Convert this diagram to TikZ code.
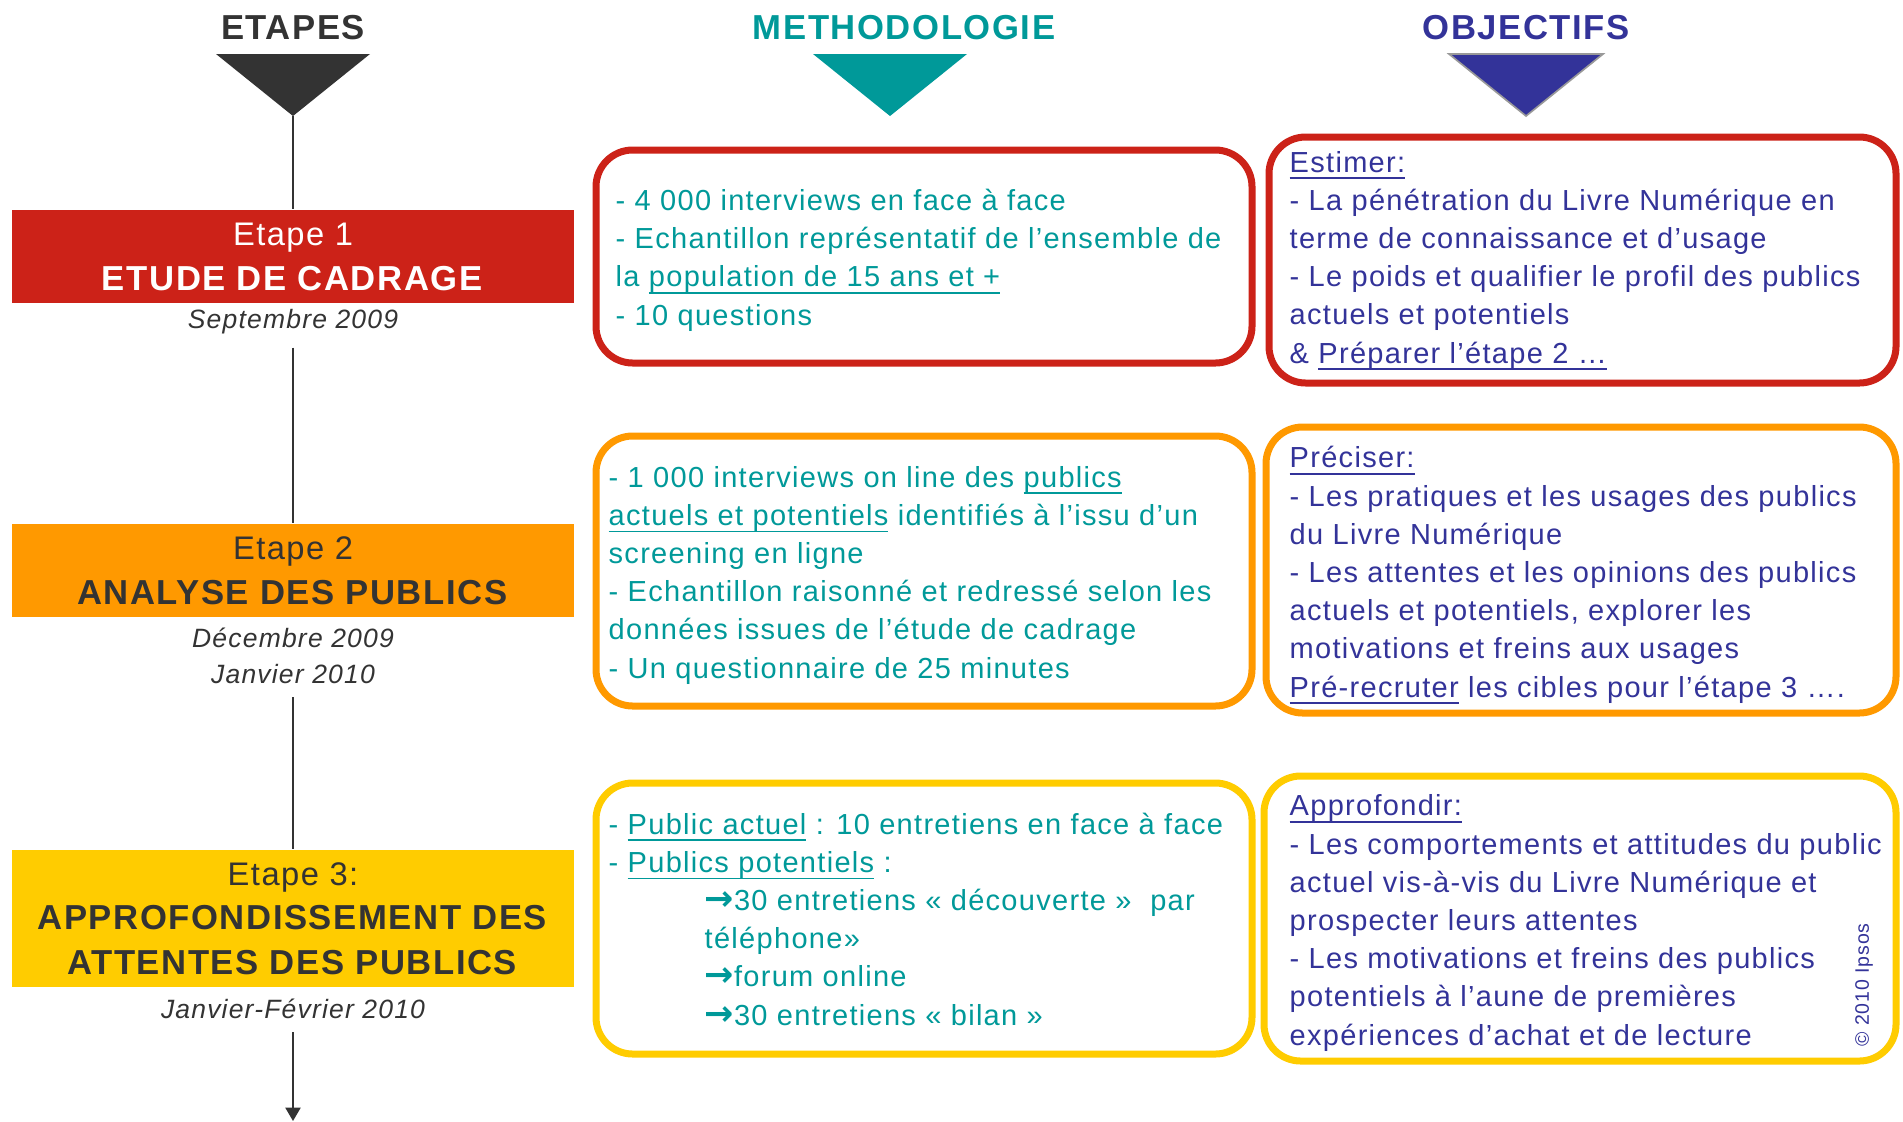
\documentclass[tikz,border=0pt]{standalone}
\usepackage{fontspec}
\setmainfont{Liberation Sans}[LetterSpace=4.5]
\newfontfamily\arrowfont{DejaVu Sans}
\usetikzlibrary{arrows.meta}
\definecolor{ipsosred}{RGB}{204,34,24}
\definecolor{ipsosorange}{RGB}{255,153,0}
\definecolor{ipsosyellow}{RGB}{255,204,0}
\definecolor{methteal}{RGB}{0,153,153}
\definecolor{objnavy}{RGB}{51,51,153}
\definecolor{stepgray}{RGB}{51,51,51}
\newsavebox{\undlbox}
\newcommand{\undl}[1]{\sbox{\undlbox}{#1}\rlap{\rule[-0.25em]{\wd\undlbox}{0.065em}}\usebox{\undlbox}}
\newcommand{\toarrow}{{\arrowfont\bfseries\fontsize{10.5}{11}\selectfont →}}

\begin{document}
\begin{tikzpicture}[x=0.3pt, y=-0.3pt,
  coltitle/.style={anchor=base, inner sep=0, font=\fontsize{10.4}{12}\selectfont\bfseries},
  stepbox/.style={minimum width=168.6pt, minimum height=27.9pt, inner sep=0, align=center, font=\fontsize{10.4}{13.5}\selectfont},
  stepdate/.style={anchor=base, inner sep=0, align=center, text=stepgray, font=\fontsize{7.95}{10.8}\selectfont\itshape},
  timeline/.style={stepgray, line width=0.6pt},
  infobox/.style={line width=2.1pt, rounded corners=11pt},
  infotext/.style={anchor=base west, inner sep=0, align=left, font=\fontsize{8.7}{11.46}\selectfont}]
\fill[white] (0,0) rectangle (1903,1121);
\useasboundingbox (0,0) rectangle (1903,1121);

% column heads
\foreach \tx/\ax/\c/\t in {293/293/stepgray/ETAPES, 904/890/methteal/METHODOLOGIE, 1526/1526/objnavy/OBJECTIFS} {
 \node[coltitle, text=\c] (head\t) at (\tx,39) {\t};
 \fill[\c] (\ax-77,54) -- (\ax+77,54) -- (\ax,116) -- cycle;
 \coordinate (apex\t) at (\ax,116);
}
\draw[black!40, line width=0.5pt] (1449,54) -- (1603,54) -- (apexOBJECTIFS) -- cycle;

% stages (multi-line nodes sit on their last baseline)
\node[stepbox, fill=ipsosred, text=white] (etape1) at (293,256.5) {{\fontsize{9.8}{12}\selectfont Etape 1}\\ \textbf{ETUDE DE CADRAGE}};
\node[stepdate] (date1) at (293,328) {Septembre 2009};
\node[stepbox, fill=ipsosorange, text=stepgray] (etape2) at (293,570.5) {{\fontsize{9.8}{12}\selectfont Etape 2}\\ \textbf{ANALYSE DES PUBLICS}};
\node[stepdate] (date2) at (293,683) {Décembre 2009\\ Janvier 2010};
\node[stepbox, fill=ipsosyellow, text=stepgray, minimum height=41.1pt, font=\fontsize{10.4}{13.35}\selectfont] (etape3) at (293,918.5) {{\fontsize{9.8}{12}\selectfont Etape 3:}\\ \textbf{APPROFONDISSEMENT DES}\\ \textbf{ATTENTES DES PUBLICS}};
\node[stepdate] (date3) at (293,1018) {Janvier-Février 2010};
\coordinate (timeend) at (293,1121);

\draw[timeline] (apexETAPES) -- (etape1);
\draw[timeline, shorten <=4pt] (date1) -- (etape2);
\draw[timeline, shorten <=4pt] (date2) -- (etape3);
\draw[timeline, shorten <=4pt, -{Triangle[width=4.5pt, length=4pt]}] (date3) -- (timeend);

% frames
\draw[infobox, ipsosred] (596,150) rectangle (1252,363);
\draw[infobox, ipsosred] (1269,137) rectangle (1896,383);
\draw[infobox, ipsosorange] (596,436) rectangle (1252,706);
\draw[infobox, ipsosorange] (1266,427) rectangle (1896,713);
\draw[infobox, ipsosyellow] (596,783) rectangle (1252,1054);
\draw[infobox, ipsosyellow] (1264,776) rectangle (1896,1061);

% methodologie
\node[infotext, text=methteal] (meth1) at (615,325) {- 4~000 interviews en face à face\\
- Echantillon représentatif de l’ensemble de\\
la \undl{population de 15 ans et +}\\
- 10 questions};
\node[infotext, text=methteal] (meth2) at (608,678) {- 1~000 interviews on line des \undl{publics}\\
\undl{actuels et potentiels} identifiés à l’issu d’un\\
screening en ligne\\
- Echantillon raisonné et redressé selon les\\
données issues de l’étude de cadrage\\
- Un questionnaire de 25 minutes};
\node[infotext, text=methteal] (meth3) at (608,1025) {- \undl{Public actuel} : 10 entretiens en face à face\\
- \undl{Publics potentiels} :\\
\hspace*{28.8pt}\toarrow30 entretiens « découverte »~~par\\
\hspace*{28.8pt}téléphone»\\
\hspace*{28.8pt}\toarrow forum online\\
\hspace*{28.8pt}\toarrow30 entretiens « bilan »};

% objectifs
\node[infotext, text=objnavy] (obj1) at (1289,363) {\undl{Estimer:}\\
- La pénétration du Livre Numérique en\\
terme de connaissance et d’usage\\
- Le poids et qualifier le profil des publics\\
actuels et potentiels\\
\& \undl{Préparer l’étape 2 …}};
\node[infotext, text=objnavy] (obj2) at (1289,697) {\undl{Préciser:}\\
- Les pratiques et les usages des publics\\
du Livre Numérique\\
- Les attentes et les opinions des publics\\
actuels et potentiels, explorer les\\
motivations et freins aux usages\\
\undl{Pré-recruter} les cibles pour l’étape 3 ….};
\node[infotext, text=objnavy] (obj3) at (1289,1045) {\undl{Approfondir:}\\
- Les comportements et attitudes du public\\
actuel vis-à-vis du Livre Numérique et\\
prospecter leurs attentes\\
- Les motivations et freins des publics\\
potentiels à l’aune de premières\\
expériences d’achat et de lecture};
\node[rotate=90, inner sep=0, text=objnavy, font=\fontsize{5.85}{7}\selectfont] (copyright) at (1864,985) {© 2010 Ipsos};
\end{tikzpicture}
\end{document}
